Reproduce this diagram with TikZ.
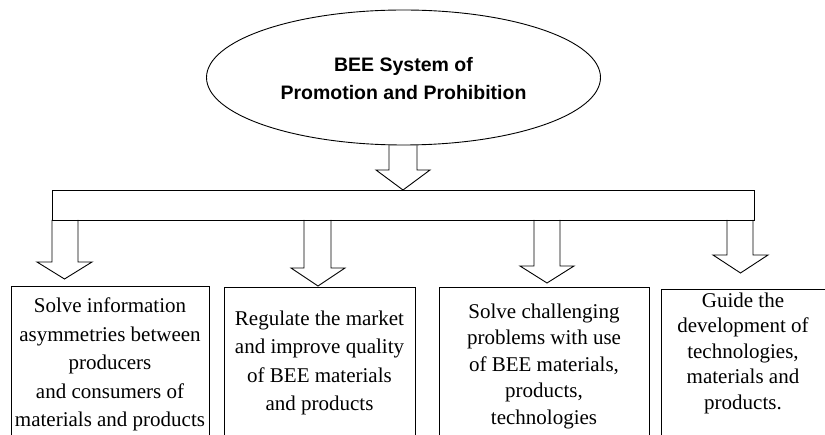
\documentclass[tikz,border=0pt]{standalone}
\usepackage{fontspec}
\setmainfont{Liberation Serif}
\newfontfamily\headfont{Liberation Sans}
\usetikzlibrary{shapes.geometric}
\begin{document}
\begin{tikzpicture}[x=1pt,y=-1pt,line width=0.9pt,
  headnode/.style={draw,ellipse,inner sep=0pt,minimum width=394pt,minimum height=135pt},
  headtxt/.style={inner sep=0pt,align=center,font=\headfont\bfseries\fontsize{19.5}{28}\selectfont},
  barnode/.style={draw,inner sep=0pt,minimum width=702pt,minimum height=30pt},
  boxnode/.style={draw,inner sep=0pt,minimum height=200pt,anchor=north},
  txt/.style={inner sep=0pt,align=center,font=\fontsize{21}{#1}\selectfont},
  blockarrow/.style={draw,line join=miter}]
\useasboundingbox (0,0) rectangle (825,435);
\clip (0,0) rectangle (825,435);

% central topic
\node[headnode] (head) at (403.5,77.5) {};
\node[headtxt] (headlabel) at (403.5,78.5) {BEE System of\\Promotion and Prohibition};

% distribution bar
\node[barnode] (bar) at (403,205) {};

% block arrow: #1 shaft left, #2 shaft right, #3 shaft top, #4 head base,
% #5 head left, #6 head right, #7 tip y
\newcommand\blockarr[7]{%
  \draw[blockarrow] (#1,#3) -- (#1,#4) -- (#5,#4) -- ({(#5+#6)/2},#7)
    -- (#6,#4) -- (#2,#4) -- (#2,#3);}

\blockarr{389}{417}{145.3}{170}{376}{430}{190}
\blockarr{52}{78}{220}{262}{37}{92}{279}
\blockarr{304}{331}{220}{268}{291}{345}{286}
\blockarr{534}{560}{220}{266}{520}{574}{283}
\blockarr{727}{753}{220}{255}{713}{768}{273}

% outcome boxes
\node[boxnode,minimum width=198pt] (b1) at (110,286) {};
\node[boxnode,minimum width=191pt] (b2) at (319.5,287) {};
\node[boxnode,minimum width=210pt] (b3) at (544,287) {};
\node[boxnode,minimum width=164pt] (b4) at (743,289) {};

\node[txt=28.5] (t1) at (b1.north |- 0,364.5) {Solve information\\asymmetries between\\producers\\and consumers of\\materials and products};
\node[txt=28.5] (t2) at (b2.north |- 0,363) {Regulate the market\\and improve quality\\of BEE materials\\and products};
\node[txt=26.5] (t3) at (b3.north |- 0,366) {Solve challenging\\problems with use\\of BEE materials,\\products,\\technologies};
\node[txt=25.5] (t4) at (b4.north |- 0,353) {Guide the\\development of\\technologies,\\materials and\\products.};
\end{tikzpicture}
\end{document}
